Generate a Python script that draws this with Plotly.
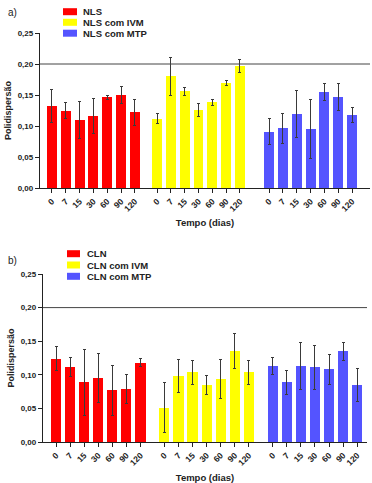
import plotly.graph_objects as go

days = ["0", "7", "15", "30", "60", "90", "120"]

# Panel a) NLS
names_a = ["NLS", "NLS com IVM", "NLS com MTP"]
nls = [0.132, 0.125, 0.110, 0.116, 0.146, 0.150, 0.122]
nls_err = [0.027, 0.013, 0.030, 0.028, 0.004, 0.013, 0.021]
nls_ivm = [0.112, 0.180, 0.156, 0.126, 0.138, 0.169, 0.197]
nls_ivm_err = [0.008, 0.030, 0.006, 0.011, 0.005, 0.004, 0.011]
nls_mtp = [0.091, 0.096, 0.120, 0.095, 0.155, 0.147, 0.118]
nls_mtp_err = [0.021, 0.024, 0.038, 0.047, 0.014, 0.022, 0.012]

# Panel b) CLN
names_b = ["CLN", "CLN com IVM", "CLN com MTP"]
cln = [0.124, 0.112, 0.089, 0.095, 0.077, 0.079, 0.118]
cln_err = [0.018, 0.014, 0.049, 0.036, 0.037, 0.021, 0.006]
cln_ivm = [0.051, 0.098, 0.104, 0.085, 0.094, 0.135, 0.104]
cln_ivm_err = [0.037, 0.025, 0.018, 0.014, 0.029, 0.026, 0.018]
cln_mtp = [0.113, 0.089, 0.113, 0.111, 0.108, 0.135, 0.085]
cln_mtp_err = [0.013, 0.018, 0.035, 0.033, 0.022, 0.013, 0.024]

colors = ["#ff0000", "#ffff00", "#5454ff"]
FONT = "Liberation Sans, Arial, sans-serif"
H = 483.0
W = 372.0

fig = go.Figure()

def add_panel(series, names, offsets, xa, ya):
    tickvals, ticktext = [], []
    for (vals, errs), name, off, col in zip(series, names, offsets, colors):
        xs = [off + i for i in range(len(days))]
        tickvals += xs
        ticktext += days
        fig.add_trace(go.Bar(
            x=xs, y=vals, name=name, marker=dict(color=col, line=dict(width=0)),
            width=0.72, xaxis=xa, yaxis=ya, showlegend=False,
            error_y=dict(type="data", array=errs, visible=True,
                         color="#3a3a3a", thickness=1, width=1.5),
        ))
    return tickvals, ticktext

tv1, tt1 = add_panel([(nls, nls_err), (nls_ivm, nls_ivm_err), (nls_mtp, nls_mtp_err)],
                     names_a, [0, 7.6, 15.7], "x", "y")
tv2, tt2 = add_panel([(cln, cln_err), (cln_ivm, cln_ivm_err), (cln_mtp, cln_mtp_err)],
                     names_b, [0, 7.7, 15.4], "x2", "y2")

ax_common = dict(showline=True, linecolor="#222", linewidth=1.3, ticks="outside",
                 ticklen=4, tickcolor="#222", showgrid=False, zeroline=False,
                 automargin=False)

yfont = dict(family=FONT, size=8, color="#222", weight="bold")
xfont = dict(family=FONT, size=8.5, color="#222", weight="bold")

yticks = [0, 0.05, 0.10, 0.15, 0.20, 0.25]
yticktext = ["0,00", "0,05", "0,10", "0,15", "0,20", "0,25"]

fig.update_layout(
    width=372, height=483, margin=dict(l=0, r=0, t=0, b=0),
    plot_bgcolor="white", paper_bgcolor="white",
    font=dict(family=FONT, color="#222"),
    bargap=0, showlegend=False,
    xaxis=dict(**ax_common, domain=[40 / W, 370 / W], range=[-0.86, 23.0],
               tickvals=tv1, ticktext=tt1, tickangle=-45, anchor="y", tickfont=xfont,
               title=dict(text="<b>Tempo (dias)</b>", font=dict(size=9.5, family=FONT), standoff=6)),
    yaxis=dict(**ax_common, domain=[1 - 188 / H, 1 - 33 / H], range=[0, 0.25],
               tickvals=yticks, ticktext=yticktext, anchor="x", tickfont=yfont,
               title=dict(text="<b>Polidispersão</b>", font=dict(size=9, family=FONT), standoff=4)),
    xaxis2=dict(**ax_common, domain=[43 / W, 367 / W], range=[-0.93, 22.1],
                tickvals=tv2, ticktext=tt2, tickangle=-45, anchor="y2", tickfont=xfont,
                title=dict(text="<b>Tempo (dias)</b>", font=dict(size=9.5, family=FONT), standoff=9)),
    yaxis2=dict(**ax_common, domain=[1 - 442 / H, 1 - 274 / H], range=[0, 0.25],
                tickvals=yticks, ticktext=yticktext, anchor="x2", tickfont=yfont,
                title=dict(text="<b>Polidispersão</b>", font=dict(size=9, family=FONT), standoff=4)),
)

fig.add_shape(type="line", xref="x domain", yref="y", x0=0, x1=1, y0=0.2, y1=0.2,
              line=dict(color="#444", width=1))
fig.add_shape(type="line", xref="x2 domain", yref="y2", x0=0, x1=1, y0=0.2, y1=0.2,
              line=dict(color="#444", width=1))

# Legends (swatch + label), laid out in pixels
def legend(names, sx0, sx1, tx, ycenters):
    for name, col, yc in zip(names, colors, ycenters):
        fig.add_shape(type="rect", xref="paper", yref="paper",
                      x0=sx0 / W, x1=sx1 / W, y0=1 - (yc + 3.5) / H, y1=1 - (yc - 3.5) / H,
                      fillcolor=col, line=dict(width=0))
        fig.add_annotation(text="<b>%s</b>" % name, xref="paper", yref="paper",
                           x=tx / W, y=1 - yc / H, showarrow=False,
                           xanchor="left", yanchor="middle",
                           font=dict(size=9.5, family=FONT, color="#222"))

legend(names_a, 63, 77, 81, [11.7, 22.3, 33.2])
legend(names_b, 67, 80, 85, [253.7, 265.0, 276.3])

fig.add_annotation(text="a)", xref="paper", yref="paper", x=6 / W, y=1 - 12 / H,
                   showarrow=False, xanchor="left", yanchor="middle",
                   font=dict(size=10, family=FONT, color="#222"))
fig.add_annotation(text="b)", xref="paper", yref="paper", x=6 / W, y=1 - 260 / H,
                   showarrow=False, xanchor="left", yanchor="middle",
                   font=dict(size=10, family=FONT, color="#222"))

fig.write_html("out.html", config={"displayModeBar": False},
               post_script="document.body.style.margin='0';")
